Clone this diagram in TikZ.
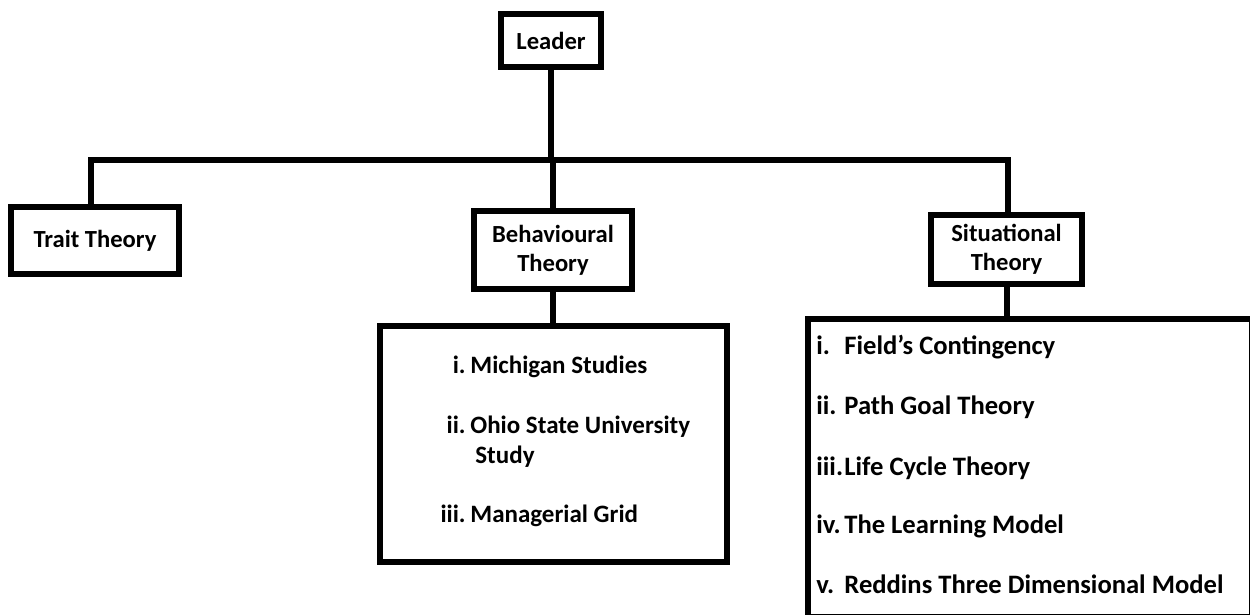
\documentclass[tikz,border=0pt]{standalone}
\usepackage{fontspec}
\setmainfont{Carlito}
\usetikzlibrary{positioning}

\begin{document}
\begin{tikzpicture}[x=0.5pt,y=-0.5pt,
    thickbox/.style={draw=black,line width=3pt,align=center,inner sep=0pt,
        font=\fontsize{12.3}{14.5}\selectfont\bfseries},
    link/.style={line width=3pt},
    item/.style={anchor=base west,inner sep=0pt,font=\fontsize{12.5}{15}\selectfont\bfseries},
    sitem/.style={anchor=base west,inner sep=0pt,font=\fontsize{13.3}{16}\selectfont\bfseries}]

    \useasboundingbox (0,0) rectangle (1250,615);
    \clip (0,0) rectangle (1250,615);

    % boxes
    \node[thickbox,minimum width=50pt,minimum height=26.5pt] (leader) at (551,40.5) {Leader};
    \node[thickbox,minimum width=84pt,minimum height=33.5pt] (trait) at (95,240.5) {Trait Theory};
    \node[thickbox,minimum width=79pt,minimum height=39pt] (behav) at (553,250) {Behavioural\\Theory};
    \node[thickbox,minimum width=173.5pt,minimum height=118pt] (behavlist) at (553.5,444) {};
    \node[thickbox,minimum width=75.5pt,minimum height=34.5pt] (situ) at (1006.5,249.5) {Situational\\Theory};
    \node[thickbox,minimum width=222pt,minimum height=149pt] (situlist) at (1030,468) {};

    % connectors
    \coordinate (barL) at (91,160);
    \coordinate (barR) at (1008,160);
    \draw[link] (leader.south) -- (leader.south |- barL);
    \draw[link] (barL |- trait.north) -- (barL) -- (barR) -- (barR |- situ.north);
    \draw[link] (behav.north) -- (behav.north |- barL);
    \draw[link] (behav.south) -- (behav.south |- behavlist.north);
    \draw[link] (situ.south) -- (situ.south |- situlist.north);

    % behavioural list
    \foreach \k/\num/\txt/\yy in {1/i./Michigan Studies/373,
                                  2/ii./Ohio State University/434,
                                  3/iii./Managerial Grid/523} {
        \node[item,anchor=base east] (bnum\k) at (466,\yy) {\num};
        \node[item] (btxt\k) at (470,\yy) {\txt};
    }
    \node[item] (btxt4) at (475,463) {Study};

    % situational list
    \foreach \k/\num/\txt/\yy in {1/i./Field’s Contingency/355,
                                  2/ii./Path Goal Theory/415,
                                  3/iii./Life Cycle Theory/475,
                                  4/iv./The Learning Model/533,
                                  5/v./Reddins Three Dimensional Model/593} {
        \node[sitem] (snum\k) at (816,\yy) {\num};
        \node[sitem] (stxt\k) at (844,\yy) {\txt};
    }

\end{tikzpicture}
\end{document}
